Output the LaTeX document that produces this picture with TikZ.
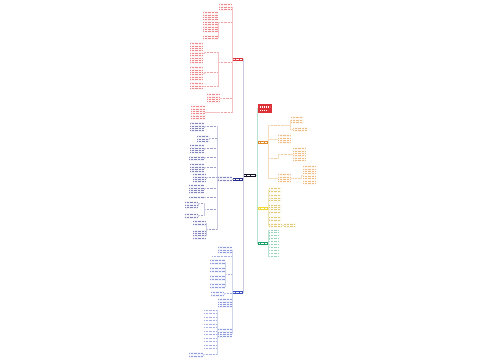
\documentclass[tikz,border=0pt]{standalone}
\usetikzlibrary{calc}
\definecolor{ctr}{RGB}{15,15,40}
\definecolor{rc}{RGB}{220,50,55}
\definecolor{nc}{RGB}{40,45,140}
\definecolor{bc}{RGB}{60,80,195}
\definecolor{oc}{RGB}{225,140,40}
\definecolor{yc}{RGB}{240,215,50}
\definecolor{yt}{RGB}{200,165,20}
\definecolor{gc}{RGB}{25,160,105}
\tikzset{
 txt/.style={line width=0.95pt, dash pattern=on 1pt off 0.4pt},
 con/.style={line width=0.35pt},
 blk/.style={inner sep=0pt, outer sep=0pt, draw=none, anchor=north west},
}
% text block: name, left x, top y, width, lines, colour
\newcommand\tb[6]{%
 \pgfmathsetmacro\tbh{#5*2.4+0.8}%
 \node[blk, fill=#6!5, minimum width=#4pt, minimum height=\tbh pt] (#1) at (#2,#3) {};
 \foreach \i in {1,...,#5}{\draw[txt,#6!58] ({#2+0.4},{#3+0.4+(\i-0.5)*2.4}) -- ++({#4-0.8},0);}
}
% label line: name, left x, centre y, width, colour
\newcommand\lb[5]{%
 \node[blk, anchor=west, minimum width=#4pt, minimum height=2.4pt] (#1) at (#2,#3) {};
 \draw[txt,#5!45] ({#2+0.3},#3) -- ++({#4-0.6},0);
}
% filled topic: name, left x, top y, width, height, colour
\newcommand\fb[6]{%
 \node[blk, fill=#6, minimum width=#4pt, minimum height=#5pt] (#1) at (#2,#3) {};
 \draw[white, line width=0.9pt, dash pattern=on 1pt off 0.3pt] ($(#1.west)+(1.3,0)$) -- ($(#1.east)+(-1.3,0)$);
}
\newcommand\cL[4]{\draw[con,#4] (#1.west) -- ($(#1.west)+(-#3,0)$) |- (#2.east);}
\newcommand\cR[4]{\draw[con,#4] (#1.east) -- ($(#1.east)+(#3,0)$) |- (#2.west);}
\begin{document}
\begin{tikzpicture}[x=1pt,y=-1pt]
\useasboundingbox (0,0) rectangle (500,360);
\fill[white] (0,0) rectangle (500,360);
% ---------- topics
\fb{C}{244}{173.5}{12}{3}{ctr}
\fb{R}{233}{57.5}{10}{3}{rc}
\fb{M}{233}{177.5}{10}{3}{nc}
\fb{B}{233}{290.5}{10}{3}{bc}
\node[blk, fill=rc, minimum width=14pt, minimum height=9pt] (RB) at (258,104) {};
\draw[white, line width=1.4pt, dash pattern=on 1.6pt off 0.4pt] (259.5,106.8) -- (269.5,106.8) (259.5,110.2) -- (266,110.2);
\fb{O}{258}{140.5}{10}{3}{oc}
\fb{Y}{258}{206.5}{10}{3}{yc}
\fb{G}{258}{241.5}{10}{3}{gc}
\cL{C}{R}{0.5}{nc!25}
\cL{C}{M}{0.5}{nc!25}
\cL{C}{B}{0.5}{nc!25}
\cR{C}{RB}{1}{gc!30}
\cR{C}{O}{1}{gc!30}
\cR{C}{Y}{1}{gc!30}
\cR{C}{G}{1}{gc!30}
% ---------- red branch
\tb{r1}{219}{3}{13}{3}{rc}
\lb{r2}{219}{22}{13}{rc}
\tb{r2a}{203}{11}{15}{9}{rc}
\tb{r2b}{203}{34.5}{15}{2}{rc}
\lb{r3}{219}{62}{13}{rc}
\lb{r3a}{205}{52}{12.5}{rc}
\lb{r3b}{205}{72}{12.5}{rc}
\lb{r3c}{205}{86}{12.5}{rc}
\tb{r3a1}{190}{42}{13}{9}{rc}
\tb{r3b1}{190}{66}{13}{6}{rc}
\tb{r3c1}{190}{82}{13}{3}{rc}
\lb{r4}{221}{98}{11}{rc}
\tb{r4a}{207}{93}{13}{4}{rc}
\lb{r5}{219}{112}{13}{rc}
\tb{r5a}{191}{105}{14}{6}{rc}
\foreach \c in {r1,r2,r3,r4,r5}{\cL{R}{\c}{0.5}{rc!30}}
\cL{r2}{r2a}{0.5}{rc!30}
\cL{r2}{r2b}{0.5}{rc!30}
\cL{r3}{r3a}{0.5}{rc!30}
\cL{r3}{r3b}{0.5}{rc!30}
\cL{r3}{r3c}{0.5}{rc!30}
\cL{r3a}{r3a1}{1}{rc!30}
\cL{r3b}{r3b1}{1}{rc!30}
\cL{r3c}{r3c1}{1}{rc!30}
\cL{r4}{r4a}{0.5}{rc!30}
\cL{r5}{r5a}{0.5}{rc!30}
% ---------- navy branch
\tb{m0}{218}{176}{14}{2}{nc}
\cL{M}{m0}{0.5}{nc!30}
\lb{m1}{205}{126.5}{12}{nc}  \tb{m1a}{190}{122}{14}{4}{nc}
\lb{m2}{210}{138}{7}{nc}     \tb{m2a}{197}{135}{12}{3}{nc}
\lb{m3}{205}{148}{12}{nc}    \tb{m3a}{190}{144}{14}{4}{nc}
\lb{m4}{205}{157}{12}{nc}    \tb{m4a}{189}{155.5}{15}{2}{nc}
\lb{m5}{205}{167}{12}{nc}    \tb{m5a}{190}{163}{14}{4}{nc}
\lb{m6}{207}{177}{10}{nc}    \tb{m6a}{193}{173}{13}{4}{nc}
\lb{m7}{205}{188}{12}{nc}    \tb{m7a}{189}{184}{15}{4}{nc}
\lb{m8}{205}{197}{12}{nc}    \tb{m8a}{189}{195.5}{15}{1}{nc}
\lb{m9}{205}{209}{12}{nc}
\lb{m9a}{199}{203}{5}{nc}    \tb{m9a1}{185}{201}{13}{3}{nc}
\lb{m9b}{199}{215}{5}{nc}    \tb{m9b1}{185}{213}{13}{2}{nc}
\lb{m10}{207}{229}{10}{nc}
\tb{m10a}{193}{220}{13}{2}{nc}
\tb{m10b}{193}{229.5}{13}{4}{nc}
\foreach \c in {m1,m2,m3,m4,m5,m6,m7,m8,m9,m10}{\cL{m0}{\c}{0.5}{nc!25}}
\foreach \c in {m1,m2,m3,m4,m5,m6,m7,m8}{\cL{\c}{\c a}{0.5}{nc!25}}
\cL{m9}{m9a}{0.5}{nc!25}
\cL{m9}{m9b}{0.5}{nc!25}
\cL{m9a}{m9a1}{0.5}{nc!25}
\cL{m9b}{m9b1}{0.5}{nc!25}
\cL{m10}{m10a}{0.5}{nc!25}
\cL{m10}{m10b}{0.5}{nc!25}
% ---------- blue branch
\tb{b1}{218}{246}{14}{3}{bc}
\lb{b2}{212}{256.5}{20}{bc}
\lb{b3}{226}{274}{6}{bc}
\tb{b3a}{210}{259}{15}{2}{bc}
\tb{b3b}{210}{267}{15}{2}{bc}
\tb{b3c}{210}{275}{15}{2}{bc}
\tb{b3d}{210}{283}{15}{2}{bc}
\lb{b4}{225}{293}{7}{bc}
\tb{b4a}{211}{291}{13}{2}{bc}
\tb{b5}{218}{298}{14}{4}{bc}
\tb{b6}{218}{328}{14}{4}{bc}
\foreach \c in {b1,b2,b3,b4,b5,b6}{\cL{B}{\c}{0.5}{bc!25}}
\foreach \c in {b3a,b3b,b3c,b3d}{\cL{b3}{\c}{0.5}{bc!25}}
\cL{b4}{b4a}{0.5}{bc!25}
\foreach \k in {0,...,11}{%
 \pgfmathsetmacro\yy{310+3.5*\k}
 \lb{bl\k}{204}{\yy}{13}{bc}
 \cL{b6}{bl\k}{0.5}{bc!25}}
\lb{blz}{204}{354.5}{13}{bc}
\tb{blz1}{189}{352}{14}{2}{bc}
\cL{b6}{blz}{0.5}{bc!25}
\cL{blz}{blz1}{0.5}{bc!25}
% ---------- orange branch
\lb{o1}{269}{125}{13}{oc}
\tb{o1a}{291}{116}{12}{3}{oc}
\tb{o1b}{293}{126.5}{14}{2}{oc}
\tb{o2}{278}{134}{13}{4}{oc}
\lb{o3}{269}{158}{9}{oc}
\lb{o3a}{279}{154}{11}{oc}
\tb{o3a1}{293}{147}{13}{6}{oc}
\tb{o4}{278}{173}{13}{4}{oc}
\lb{o4a}{293}{178}{7}{oc}
\tb{o4b}{303}{165}{13}{8}{oc}
\foreach \c in {o1,o2,o3,o4}{\cR{O}{\c}{0.5}{oc!30}}
\cR{o1}{o1a}{8}{oc!30}
\cR{o1}{o1b}{8}{oc!30}
\cR{o3}{o3a}{0.5}{oc!30}
\cR{o3a}{o3a1}{1.5}{oc!30}
\cR{o4}{o4a}{1}{oc!30}
\cR{o4a}{o4b}{1.5}{oc!30}
% ---------- yellow branch
\tb{y1}{269}{187}{12}{2}{yt}
\tb{y2}{269}{194}{12}{3}{yt}
\tb{y3}{269}{203.5}{12}{4}{yt}
\tb{y4}{269}{216}{12}{2}{yt}
\tb{y5}{269}{222.5}{13}{2}{yt}
\tb{y6}{283.5}{222.5}{12}{2}{yt}
\foreach \c in {y1,y2,y3,y4,y5}{\cR{Y}{\c}{0.5}{yt!30}}
\cR{y5}{y6}{0.7}{yt!30}
% ---------- green branch
\foreach \k in {0,...,9}{%
 \pgfmathsetmacro\yy{230+2.9*\k}
 \lb{g\k}{269}{\yy}{10}{gc}
 \cR{G}{g\k}{0.5}{gc!30}}
\end{tikzpicture}
\end{document}
